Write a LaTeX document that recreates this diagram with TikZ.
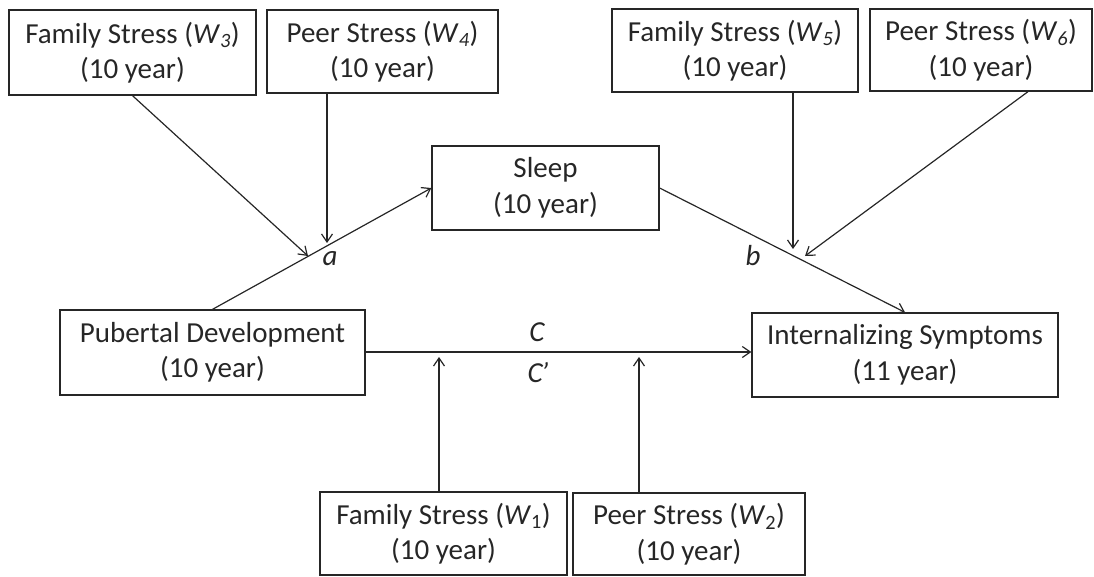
\documentclass[tikz,border=0pt]{standalone}
\usepackage{fontspec}
\setmainfont{Carlito}
\usetikzlibrary{arrows.meta}
\definecolor{ink}{HTML}{262626}
\tikzset{
  box/.style={draw=ink, line width=1.3pt, inner sep=0pt, align=center,
    text=ink, font=\fontsize{29}{35.5}\selectfont},
  conn/.style={draw=ink, line width=1.2pt, -{Straight Barb[length=8pt,width=11pt,line width=1.2pt]}},
  plain/.style={draw=ink, line width=1.2pt},
  lab/.style={text=ink, font=\fontsize{29}{35.5}\selectfont\itshape, inner sep=0pt}
}
\newcommand{\Wv}[1]{\textit{W}\textsubscript{\textit{#1}}}
\newcommand{\Wu}[1]{\textit{W}\textsubscript{#1}}
\begin{document}
\begin{tikzpicture}[x=1pt,y=-1pt]
\useasboundingbox (0,0) rectangle (1094,576);
% boxes
\node[box, minimum width=247pt, minimum height=85pt] (w3) at (132.5,52.5) {Family Stress (\Wv{3})\\(10 year)};
\node[box, minimum width=231pt, minimum height=83pt] (w4) at (382.5,51.5) {Peer Stress (\Wv{4})\\(10 year)};
\node[box, minimum width=246pt, minimum height=83pt] (w5) at (735,50.5) {Family Stress (\Wv{5})\\(10 year)};
\node[box, minimum width=222pt, minimum height=82pt] (w6) at (981,50) {Peer Stress (\Wv{6})\\(10 year)};
\node[box, minimum width=227pt, minimum height=84pt] (sleep) at (545.5,188) {Sleep\\(10 year)};
\node[box, minimum width=305pt, minimum height=85pt] (pub) at (212.5,352.5) {Pubertal Development\\(10 year)};
\node[box, minimum width=306pt, minimum height=84pt] (int) at (905,355) {Internalizing Symptoms\\(11 year)};
\node[box, minimum width=247pt, minimum height=83pt] (w1) at (443.5,533.5) {Family Stress (\Wu{1})\\(10 year)};
\node[box, minimum width=232pt, minimum height=82pt] (w2) at (689,534) {Peer Stress (\Wu{2})\\(10 year)};
% moderator targets
\coordinate (m3) at (308,256);
\coordinate (m4) at (327,243);
\coordinate (m5) at (793,249);
\coordinate (m6) at (805,256);
\coordinate (m1) at (439,357);
\coordinate (m2) at (639,357);
% main paths
\draw[conn] (pub.north) -- (sleep.west);
\draw[conn] (sleep.east) -- (int.north);
\draw[conn] (pub.east |- 0,352) -- (int.west |- 0,352);
% moderators
\draw[conn] (w3.south) -- (m3);
\draw[conn] (w4.south -| m4) -- (m4);
\draw[conn] (w5.south -| m5) -- (m5);
\draw[conn] (w6.south -| 1028,0) -- (m6);
\draw[conn] (w1.north -| m1) -- (m1);
\draw[conn] (w2.north -| m2) -- (m2);
% labels
\node[lab] (la) at (330,259) {a};
\node[lab] (lb) at (753,256) {b};
\node[lab] (lc) at (537,332) {C};
\node[lab] (lcp) at (538,373) {C\kern-1.5pt’};
\end{tikzpicture}
\end{document}
